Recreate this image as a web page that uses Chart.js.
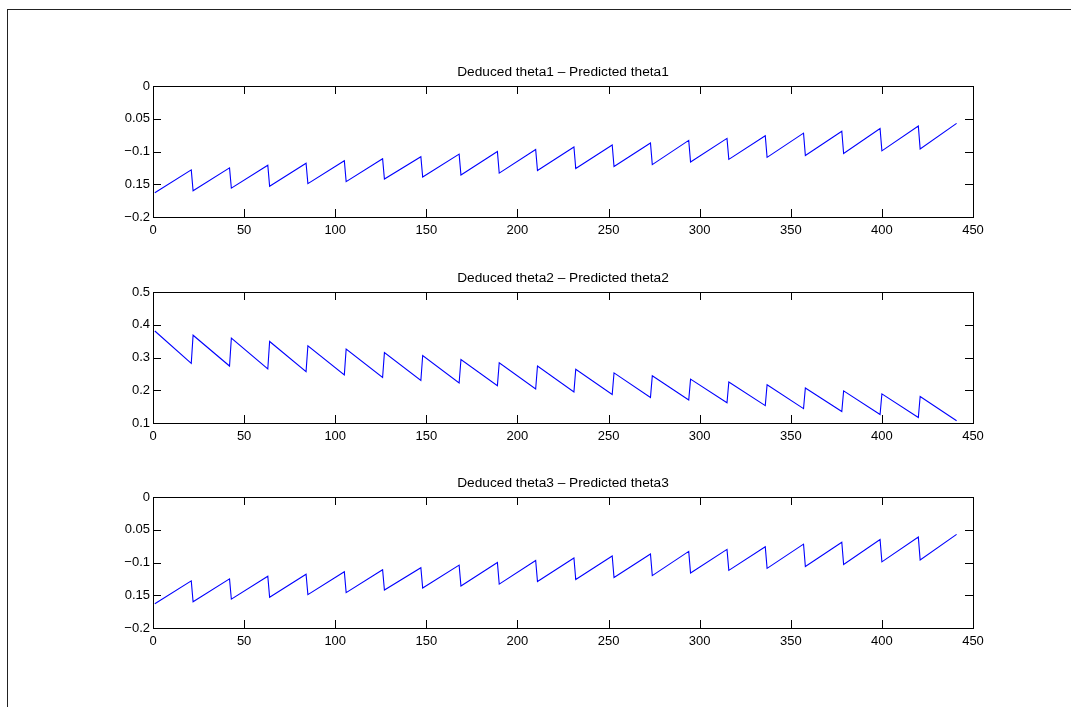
<!DOCTYPE html>
<html>
<head>
<meta charset="utf-8">
<script src="https://cdn.jsdelivr.net/npm/chart.js@4.4.0/dist/chart.umd.min.js"></script>
<style>
  body { margin: 0; background: #fff; }
  #fig { position: relative; width: 1071px; height: 707px; overflow: hidden; background: #fff; }
  #frame { position: absolute; left: 7px; top: 9px; width: 1100px; height: 720px;
           border-left: 1px solid #222; border-top: 1px solid #222; }
  canvas { position: absolute; left: 0; }
</style>
</head>
<body>
<div id="fig">
  <div id="frame"></div>
  <canvas id="c1" width="1071" height="201" style="top:46px"></canvas>
  <canvas id="c2" width="1071" height="201" style="top:252px"></canvas>
  <canvas id="c3" width="1071" height="201" style="top:457px"></canvas>
</div>
<script>
// each sawtooth tooth runs from segStartX[k] to segEndX[k]
var segStartX = [1, 22, 43, 64, 85, 106, 127, 148, 169, 190, 211, 232, 253, 274, 295, 316, 337, 358, 379, 400, 421];
var segEndX = [21, 42, 63, 84, 105, 126, 147, 168, 189, 210, 231, 252, 273, 294, 315, 336, 357, 378, 399, 420, 441];

var theta1Start = [-0.163, -0.160, -0.156, -0.153, -0.149, -0.146, -0.142, -0.139, -0.136, -0.133, -0.129,
                   -0.126, -0.123, -0.120, -0.116, -0.112, -0.109, -0.106, -0.103, -0.099, -0.096];
var theta1End = [-0.128, -0.125, -0.121, -0.118, -0.114, -0.111, -0.108, -0.104, -0.100, -0.097, -0.093,
                 -0.090, -0.087, -0.083, -0.080, -0.076, -0.072, -0.069, -0.065, -0.061, -0.057];

var theta2Start = [0.381, 0.368, 0.359, 0.349, 0.336, 0.326, 0.315, 0.306, 0.294, 0.284, 0.274,
                   0.264, 0.253, 0.244, 0.234, 0.225, 0.217, 0.207, 0.198, 0.189, 0.181];
var theta2End = [0.282, 0.274, 0.265, 0.257, 0.247, 0.239, 0.230, 0.222, 0.214, 0.204, 0.195,
                 0.187, 0.178, 0.170, 0.162, 0.153, 0.144, 0.135, 0.126, 0.117, 0.107];

var theta3Start = [-0.163, -0.160, -0.156, -0.153, -0.149, -0.146, -0.142, -0.139, -0.136, -0.133, -0.129,
                   -0.126, -0.123, -0.120, -0.116, -0.112, -0.109, -0.106, -0.103, -0.099, -0.096];
var theta3End = [-0.128, -0.125, -0.121, -0.118, -0.114, -0.111, -0.108, -0.104, -0.100, -0.097, -0.093,
                 -0.090, -0.087, -0.083, -0.080, -0.076, -0.072, -0.069, -0.065, -0.061, -0.057];

// tick labels, bottom to top
var xTickLabels = ['0', '50', '100', '150', '200', '250', '300', '350', '400', '450'];
var negTickLabels = ['\u22120.2', '0.15', '\u22120.1', '0.05', '0'];
var posTickLabels = ['0.1', '0.2', '0.3', '0.4', '0.5'];

var FONT = '"Liberation Sans", Arial, Helvetica, sans-serif';

// box around the plot area with ticks pointing inwards on all four sides
var boxAxes = {
    id: 'boxAxes',
    afterDatasetsDraw: function(chart) {
        var ctx = chart.ctx, a = chart.chartArea;
        var xs = chart.scales.x, ys = chart.scales.y, len = 8;
        ctx.save();
        ctx.strokeStyle = '#000';
        ctx.lineWidth = 1;
        ctx.beginPath();
        xs.ticks.forEach(function(t) {
            var px = Math.round(xs.getPixelForValue(t.value)) + 0.5;
            ctx.moveTo(px, a.bottom); ctx.lineTo(px, a.bottom - len);
            ctx.moveTo(px, a.top); ctx.lineTo(px, a.top + len);
        });
        ys.ticks.forEach(function(t) {
            var py = Math.round(ys.getPixelForValue(t.value)) + 0.5;
            ctx.moveTo(a.left, py); ctx.lineTo(a.left + len, py);
            ctx.moveTo(a.right, py); ctx.lineTo(a.right - len, py);
        });
        ctx.stroke();
        ctx.strokeRect(Math.round(a.left) + 0.5, Math.round(a.top) + 0.5,
                       Math.round(a.right - a.left), Math.round(a.bottom - a.top));
        ctx.restore();
    }
};

function toothPoints(starts, ends) {
    var pts = [];
    for (var k = 0; k < starts.length; k++) {
        pts.push({x: segStartX[k], y: starts[k]});
        pts.push({x: segEndX[k], y: ends[k]});
    }
    return pts;
}

function makeChart(id, title, starts, ends, yMin, yMax, yLabels) {
    return new Chart(document.getElementById(id), {
        type: 'line',
        data: {
            datasets: [{
                data: toothPoints(starts, ends),
                borderColor: '#0000ff',
                borderWidth: 1.1,
                pointRadius: 0,
                tension: 0,
                fill: false
            }]
        },
        options: {
            responsive: false,
            animation: false,
            layout: { padding: { left: 0, right: 98, top: 0, bottom: 0 } },
            plugins: {
                legend: { display: false },
                tooltip: { enabled: false },
                title: {
                    display: true,
                    fullSize: false,
                    text: title,
                    color: '#000',
                    font: { family: FONT, size: 13.7, weight: 'normal', lineHeight: '16px' },
                    padding: { top: 18, bottom: 6 }
                }
            },
            scales: {
                x: {
                    type: 'linear',
                    min: 0,
                    max: 450,
                    grid: { display: false, drawTicks: false },
                    border: { display: false },
                    ticks: {
                        stepSize: 50,
                        autoSkip: false,
                        maxRotation: 0,
                        padding: 6,
                        color: '#000',
                        font: { family: FONT, size: 13 },
                        callback: function(v, i) { return xTickLabels[i]; }
                    },
                    afterFit: function(s) { s.height = 30; }
                },
                y: {
                    type: 'linear',
                    min: yMin,
                    max: yMax,
                    grid: { display: false, drawTicks: false },
                    border: { display: false },
                    ticks: {
                        count: yLabels.length,
                        autoSkip: false,
                        padding: 3,
                        color: '#000',
                        font: { family: FONT, size: 13 },
                        callback: function(v, i) { return yLabels[i]; }
                    },
                    afterFit: function(s) { s.width = 153; }
                }
            }
        },
        plugins: [boxAxes]
    });
}

makeChart('c1', 'Deduced theta1 \u2013 Predicted theta1', theta1Start, theta1End, -0.2, 0, negTickLabels);
makeChart('c2', 'Deduced theta2 \u2013 Predicted theta2', theta2Start, theta2End, 0.1, 0.5, posTickLabels);
makeChart('c3', 'Deduced theta3 \u2013 Predicted theta3', theta3Start, theta3End, -0.2, 0, negTickLabels);
</script>
</body>
</html>
